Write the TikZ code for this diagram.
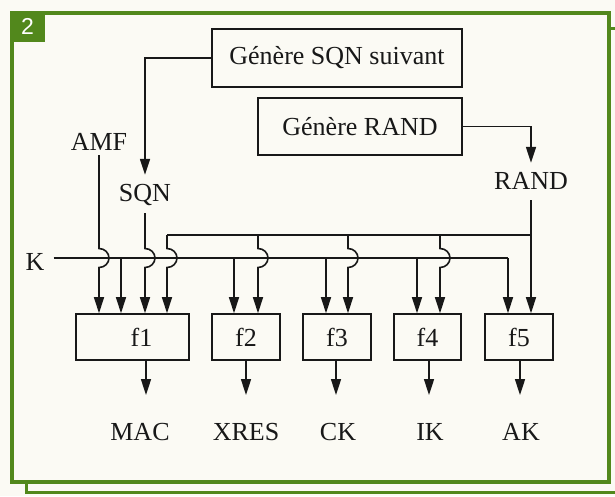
\documentclass[tikz,border=0pt]{standalone}
\usepackage{fontspec}
\setmainfont{Liberation Serif}
\setsansfont{Liberation Sans}
\usetikzlibrary{arrows.meta}
\definecolor{frameg}{RGB}{82,136,28}
\definecolor{paper}{RGB}{251,250,244}
\definecolor{ink}{RGB}{24,24,24}
\begin{document}
\begin{tikzpicture}[x=1pt,y=-1pt,
  ln/.style={draw=ink,line width=1.6pt},
  arr/.style={ln,-{Triangle[length=16pt,width=10pt]}},
  fbox/.style={draw=ink,line width=1.6pt,inner sep=0pt,text=ink,font=\fontsize{26}{30}\selectfont},
  lab/.style={inner sep=0pt,anchor=base,text height=18pt,text depth=5pt,text=ink,font=\fontsize{26}{30}\selectfont}
]
\useasboundingbox (0,0) rectangle (615,496);
\fill[paper] (0,0) rectangle (615,496);
% frames
\begin{scope}
\clip (0,0) rectangle (615,496);
\draw[frameg,line width=3.5pt] (26.5,28.5) rectangle (640,492.5);
\end{scope}
\draw[frameg,line width=4pt,fill=paper] (12,13) rectangle (609,481.5);
\fill[frameg] (10,11) rectangle (45,42);
\node[text=white,inner sep=0pt,font=\sffamily\fontsize{23}{26}\selectfont] (num) at (27.5,26.5) {2};

% generator boxes
\node[fbox,minimum width=250pt,minimum height=58pt] (gs) at (337,58) {Génère SQN suivant};
\node[fbox,minimum width=204pt,minimum height=57pt] (gr) at (360,126.5) {Génère RAND};

% function boxes
\node[fbox,minimum width=113pt,minimum height=46pt] (f1) at (132.5,337) {\hspace*{18pt}f1};
\node[fbox,minimum width=68pt,minimum height=46pt] (f2) at (246,337) {f2};
\node[fbox,minimum width=68pt,minimum height=46pt] (f3) at (337,337) {f3};
\node[fbox,minimum width=67pt,minimum height=46pt] (f4) at (427.5,337) {f4};
\node[fbox,minimum width=68pt,minimum height=46pt] (f5) at (519,337) {f5};

% labels
\node[lab] (amf) at (99,150) {AMF};
\node[lab] (sqn) at (145,201) {SQN};
\node[lab] (rand) at (531,189) {RAND};
\node[lab] (k) at (35,270) {K};
\node[lab] (mac) at (140,440) {MAC};
\node[lab] (xres) at (246,440) {XRES};
\node[lab] (ck) at (338,440) {CK};
\node[lab] (ik) at (430,440) {IK};
\node[lab] (ak) at (521,440) {AK};

% helper coordinates
\coordinate (jt) at (0,248.5);
\coordinate (bus) at (167,235);
\coordinate (b2) at (258,235);
\coordinate (b3) at (348,235);
\coordinate (b4) at (440,235);
\coordinate (k1) at (121,258);
\coordinate (k2) at (234,258);
\coordinate (k3) at (326,258);
\coordinate (k4) at (417,258);
\coordinate (k5) at (508,258);
\coordinate (t1) at (146,395);
\coordinate (t2) at (246,395);
\coordinate (t3) at (336,395);
\coordinate (t4) at (429,395);
\coordinate (t5) at (520,395);

% SQN and RAND generators
\draw[arr,shorten >=8pt] (gs.west) -| (sqn.north);
\draw[arr,shorten >=8pt] (gr.east) -| (rand.north);

% K line
\draw[ln,shorten <=9pt] (k.east |- k5) -- (k5);
\draw[arr] (k1) -- (k1 |- f1.north);
\draw[arr] (k2) -- (k2 |- f2.north);
\draw[arr] (k3) -- (k3 |- f3.north);
\draw[arr] (k4) -- (k4 |- f4.north);
\draw[arr] (k5) -- (k5 |- f5.north);

% RAND line and bus
\draw[arr,shorten <=6pt] (rand.south) -- (rand.south |- f5.north);
\draw[ln] (rand.south |- bus) -- (bus);

% crossing lines with jumps
\def\jarc{arc[start angle=90,end angle=-90,x radius=10pt,y radius=9.5pt]}
\draw[arr] (amf.south) -- (amf.south |- jt) \jarc -- (amf.south |- f1.north);
\draw[arr,shorten <=7pt] (sqn.south) -- (sqn.south |- jt) \jarc -- (sqn.south |- f1.north);
\draw[arr] (bus) -- (bus |- jt) \jarc -- (bus |- f1.north);
\draw[arr] (b2) -- (b2 |- jt) \jarc -- (b2 |- f2.north);
\draw[arr] (b3) -- (b3 |- jt) \jarc -- (b3 |- f3.north);
\draw[arr] (b4) -- (b4 |- jt) \jarc -- (b4 |- f4.north);

% outputs
\draw[arr] (f1.south -| t1) -- (t1);
\draw[arr] (f2.south -| t2) -- (t2);
\draw[arr] (f3.south -| t3) -- (t3);
\draw[arr] (f4.south -| t4) -- (t4);
\draw[arr] (f5.south -| t5) -- (t5);
\end{tikzpicture}
\end{document}
